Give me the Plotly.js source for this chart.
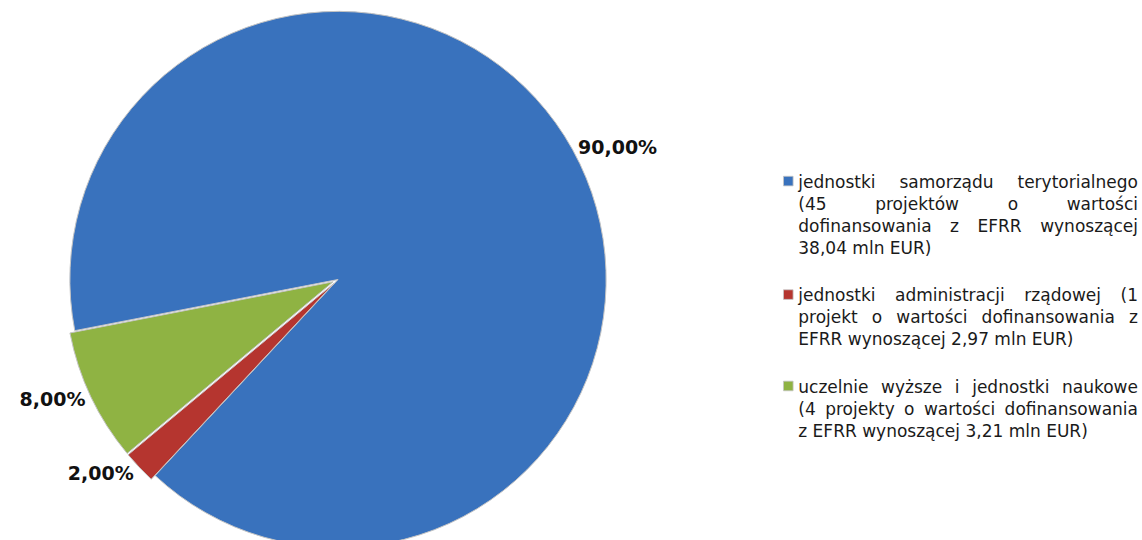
<!DOCTYPE html>
<html>
<head>
<meta charset="utf-8">
<script src="https://cdn.plot.ly/plotly-3.0.1.min.js"></script>
<style>
html,body{margin:0;padding:0;overflow:hidden;background:#fff;}
#chart{width:1142px;height:554px;}
</style>
</head>
<body>
<div id="chart"></div>
<script>
const categories = [
  "jednostki samorządu terytorialnego<br>(45 projektów o wartości<br>dofinansowania z EFRR wynoszącej<br>38,04 mln EUR)",
  "jednostki administracji rządowej (1<br>projekt o wartości dofinansowania z<br>EFRR wynoszącej 2,97 mln EUR)",
  "uczelnie wyższe i jednostki naukowe<br>(4 projekty o wartości dofinansowania<br>z EFRR wynoszącej 3,21 mln EUR)"
];
const shares = [90, 2, 8];
const sliceColors = ["#3972bd", "#b5352f", "#8fb343"];
const pulls = [0, 0.02, 0.02];
// blank lines after each legend entry (spacing between entries)
const gapLines = [1, 1, 0];

const legendLabels = categories.map((c, i) => c + "<br>\u00a0".repeat(gapLines[i]));

const trace = {
  type: "pie",
  labels: legendLabels,
  values: shares,
  sort: false,
  direction: "clockwise",
  rotation: 259,
  pull: pulls,
  marker: {colors: sliceColors, line: {color: "#c4c4c4", width: 1}},
  textposition: "outside",
  texttemplate: "%{percent:.2%}",
  textfont: {family: "DejaVu Sans", size: 19, color: "#111", weight: "bold"},
  domain: {x: [0, 676/1142], y: [0, 1]},
  hoverinfo: "none"
};

const layout = {
  width: 1142,
  height: 554,
  margin: {l: 0, r: 0, t: 6, b: 1},
  separators: ", ",
  paper_bgcolor: "#fff",
  showlegend: true,
  legend: {
    x: 0.664, xanchor: "left",
    y: 0.712, yanchor: "top",
    valign: "top",
    font: {family: "DejaVu Sans", size: 17, color: "#1a1a1a"},
    itemwidth: 30
  }
};

const RIGHT_EDGE = 1138;

Plotly.newPlot("chart", [trace], layout, {staticPlot: true}).then(() => {
  const root = document.getElementById("chart");
  root.querySelectorAll(".legend [clip-path]").forEach(el => el.removeAttribute("clip-path"));
  root.querySelectorAll(".legend .legendpie").forEach(p => p.setAttribute("transform", "translate(30,0) scale(0.8)"));
  root.querySelectorAll(".legend .legendtext").forEach(t => {
    const lines = Array.from(t.querySelectorAll("tspan.line"));
    lines.forEach((ln, i) => {
      const next = lines[i + 1];
      if (!next || !next.textContent.trim()) return;
      const txt = ln.textContent;
      const nSpaces = (txt.match(/ /g) || []).length;
      if (!nSpaces) return;
      const box = ln.getBoundingClientRect();
      const extra = RIGHT_EDGE - box.right;
      if (extra > 0) ln.setAttribute("word-spacing", (extra / nSpaces).toFixed(2));
    });
  });
});
</script>
</body>
</html>
